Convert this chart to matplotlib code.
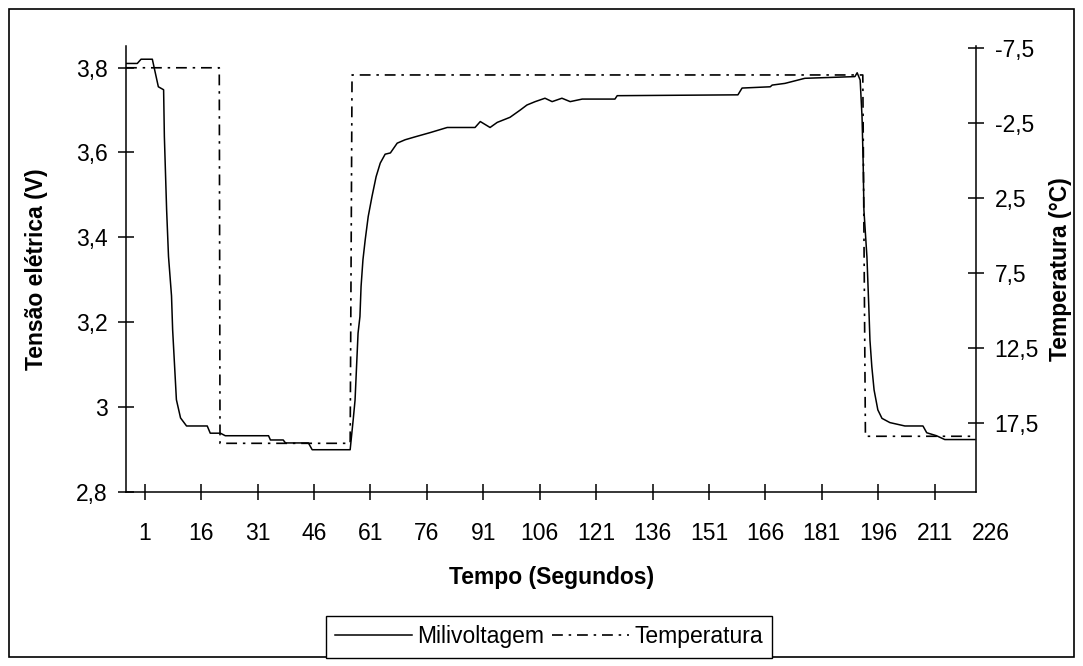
import matplotlib.pyplot as plt
from matplotlib.patches import Rectangle

plt.rcParams['font.family'] = ['Liberation Sans', 'DejaVu Sans']

# Milivoltagem - tensão elétrica (V), eixo esquerdo
mv_t = [-4, -1, 0, 3, 4.6, 6, 6.2, 6.8, 7.3, 8.1, 8.4, 9.4, 10.5, 12.1, 17.6,
        18.4, 21.1, 22.4, 33.9, 34.4, 37.8, 38.4, 44.5, 45.5, 55.6, 56.4,
        56.9, 57.7, 58.2, 58.5, 59.0, 59.6, 60.4, 61.4, 62.5, 63.6, 64.9,
        66.3, 68.1, 70.2, 72.9, 76.9, 81.4, 88.8, 90.2, 92.8, 94.7, 98.1,
        100.8, 102.6, 104.8, 107.4, 109.3, 111.9, 114.1, 117.3, 126.0, 126.6,
        158.7, 159.8, 167.3, 167.8, 171.2, 176.5, 189.8, 190.4, 191.2, 191.7,
        192.0, 192.2, 193.0, 193.5, 193.8, 194.3, 194.9, 195.9, 197.0, 199.1,
        203.1, 207.9, 208.9, 211.5, 213.7, 221.7]
mv_v = [3.81, 3.81, 3.82, 3.82, 3.755, 3.748, 3.638, 3.465, 3.355, 3.262,
        3.182, 3.017, 2.974, 2.955, 2.955, 2.938, 2.938, 2.932, 2.932, 2.922,
        2.922, 2.915, 2.915, 2.899, 2.899, 2.969, 3.016, 3.174, 3.213, 3.284,
        3.347, 3.394, 3.449, 3.496, 3.543, 3.575, 3.596, 3.599, 3.622, 3.63,
        3.637, 3.647, 3.659, 3.659, 3.673, 3.659, 3.671, 3.683, 3.70, 3.712,
        3.72, 3.728, 3.72, 3.728, 3.72, 3.726, 3.726, 3.734, 3.736, 3.752,
        3.755, 3.759, 3.763, 3.775, 3.779, 3.788, 3.771, 3.684, 3.575, 3.464,
        3.354, 3.236, 3.158, 3.095, 3.04, 2.993, 2.973, 2.963, 2.955, 2.955,
        2.939, 2.932, 2.923, 2.923]

# Temperatura (°C), eixo direito invertido
temp_t = [-4, 20.8, 21.0, 55.6, 56.1, 191.9, 192.6, 221.7]
temp_c = [-6.2, -6.2, 18.87, 18.87, -5.72, -5.72, 18.4, 18.4]

x_ticks = [1, 16, 31, 46, 61, 76, 91, 106, 121, 136, 151, 166, 181, 196, 211, 226]
v_ticks = [2.8, 3.0, 3.2, 3.4, 3.6, 3.8]
v_labels = ['2,8', '3', '3,2', '3,4', '3,6', '3,8']
c_ticks = [-7.5, -2.5, 2.5, 7.5, 12.5, 17.5]
c_labels = ['-7,5', '-2,5', '2,5', '7,5', '12,5', '17,5']

W, H = 1083, 666
fs = 16.5

fig = plt.figure(figsize=(W / 100, H / 100), dpi=100)
ax = fig.add_axes([126 / W, 1 - 491.7 / H, 850 / W, 445.2 / H])
ax2 = ax.twinx()

l1, = ax.plot(mv_t, mv_v, color='black', lw=1.1, label='Milivoltagem')
l2, = ax2.plot(temp_t, temp_c, color='black', lw=1.2,
               dashes=(6.5, 3.5, 1.5, 3.5), label='Temperatura')

ax.set_xlim(-4, 222)
ax.set_ylim(2.8, 3.85)
ax2.set_ylim(22.1, -7.62)

ax.set_xticks(x_ticks[:-1])
ax.set_xticklabels([str(v) for v in x_ticks[:-1]])
ax.set_yticks(v_ticks)
ax.set_yticklabels(v_labels)
ax2.set_yticks(c_ticks)
ax2.set_yticklabels(c_labels)

# ultimo rotulo fica fora do eixo
ax.text(x_ticks[-1], -0.068, str(x_ticks[-1]), transform=ax.get_xaxis_transform(),
        ha='center', va='top', fontsize=fs, clip_on=False)

for s in ['top', 'right']:
    ax.spines[s].set_visible(False)
for s in ['top', 'left', 'bottom']:
    ax2.spines[s].set_visible(False)
ax.spines['left'].set_linewidth(1.1)
ax.spines['bottom'].set_linewidth(1.1)
ax2.spines['right'].set_linewidth(1.1)

ax.tick_params(axis='x', direction='inout', length=11, width=1.1, labelsize=fs, pad=16)
ax.tick_params(axis='y', direction='inout', length=11, width=1.1, labelsize=fs, pad=7.5)
ax2.tick_params(axis='y', direction='inout', length=11, width=1.1, labelsize=fs, pad=8)

# titulos dos eixos
fig.text(552 / W, 1 - 577.5 / H, 'Tempo (Segundos)', ha='center', va='center',
         fontsize=fs, fontweight='bold')
fig.text(37 / W, 1 - 269 / H, 'Tensão elétrica (V)', rotation=90, ha='center',
         va='center', fontsize=fs, fontweight='bold')
fig.text(1061 / W, 1 - 269 / H, 'Temperatura (°C)', rotation=90, ha='center',
         va='center', fontsize=fs, fontweight='bold')

leg = fig.legend([l1, l2], ['Milivoltagem', 'Temperatura'], loc='center',
                 bbox_to_anchor=(549 / W, 1 - 637 / H), ncol=2, fontsize=fs,
                 fancybox=False, edgecolor='black', framealpha=1,
                 handlelength=3.35, handletextpad=0.22, columnspacing=0.35,
                 borderpad=0.4, borderaxespad=0)
leg.get_frame().set_linewidth(1.0)

# moldura do grafico
fig.add_artist(Rectangle((9 / W, (H - 657) / H), (1074 - 9) / W, (657 - 9) / H,
                         transform=fig.transFigure, fill=False, lw=1.2, ec='black'))

fig.savefig('out.png', dpi=100)
